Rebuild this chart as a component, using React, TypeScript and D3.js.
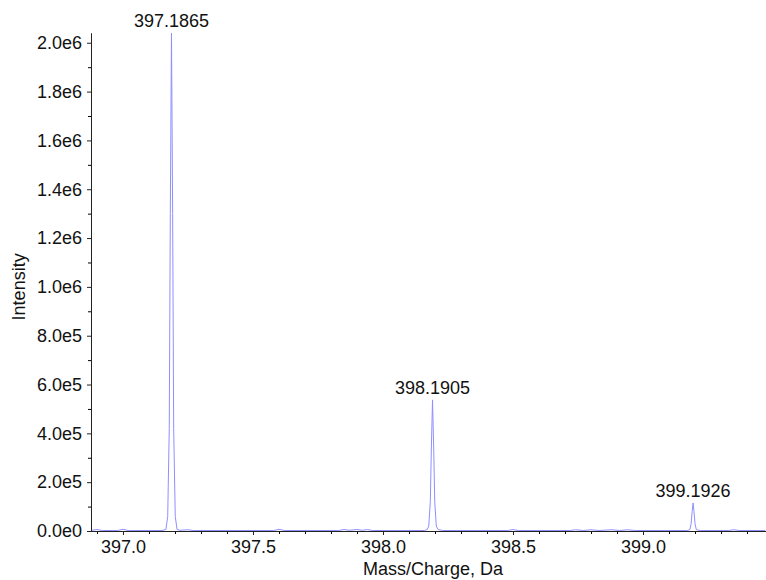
import React, { useRef, useEffect } from 'react';
import * as d3 from 'd3';

// profile spectrum samples (m/z, intensity)
const mzValues = [
  396.88, 396.9, 396.92, 396.98, 397.0, 397.02, 397.15, 397.165, 397.172, 397.178, 397.182,
  397.1865, 397.191, 397.195, 397.201, 397.208, 397.22, 397.25, 397.27, 397.58, 397.6, 397.62,
  397.83, 397.85, 397.87, 397.9, 397.92, 397.94, 397.96, 398.16, 398.17, 398.176, 398.182,
  398.186, 398.1905, 398.195, 398.199, 398.205, 398.212, 398.23, 398.48, 398.5, 398.52, 398.72,
  398.74, 398.77, 398.8, 398.83, 398.88, 398.91, 398.94, 398.97, 399.17, 399.18, 399.185,
  399.189, 399.1926, 399.196, 399.2, 399.205, 399.22, 399.33, 399.35, 399.37, 399.47,
];
const intensities = [
  3000, 6000, 2000, 2000, 7000, 2000, 2000, 6000, 60000, 420000, 1300000,
  2040000, 1300000, 420000, 60000, 6000, 3000, 5000, 2000, 2000, 7000, 2000,
  2000, 6000, 3000, 6000, 3000, 6000, 2000, 2000, 6000, 20000, 120000,
  340000, 537000, 340000, 120000, 20000, 6000, 2000, 2000, 6000, 2000, 2000,
  5000, 2000, 5000, 2000, 5000, 2000, 5000, 2000, 2000, 5000, 30000,
  80000, 115000, 80000, 30000, 5000, 2000, 2000, 5000, 2000, 2000,
];

// labelled centroids
const peakMz = [397.1865, 398.1905, 399.1926];
const peakHeights = [2040000, 537000, 115000];
const peakLabels = ['397.1865', '398.1905', '399.1926'];

const yTicks = [0, 2e5, 4e5, 6e5, 8e5, 1e6, 1.2e6, 1.4e6, 1.6e6, 1.8e6, 2e6];
const xTicks = [397.0, 397.5, 398.0, 398.5, 399.0];

const Spectrum = ({ width = 766, height = 580 }) => {
  const svgRef = useRef(null);
  useEffect(() => {
    document.body.style.margin = '0';
    d3.select(svgRef.current).selectAll('*').remove();
    const svg = d3.select(svgRef.current);
    const margin = { top: 33, right: 0, bottom: 49, left: 91 };
    const font = '"Liberation Sans", Arial, sans-serif';

    const x = d3
      .scaleLinear()
      .domain([396.877, 399.473])
      .range([margin.left, width - margin.right]);
    const y = d3
      .scaleLinear()
      .domain([0, 2.04e6])
      .range([height - margin.bottom, margin.top]);

    // spectrum line
    const pts = mzValues.map((m, i) => [m, intensities[i]]);
    const line = d3
      .line()
      .x((d) => x(d[0]))
      .y((d) => y(d[1]));
    svg
      .append('path')
      .datum(pts)
      .attr('d', line)
      .attr('fill', 'none')
      .attr('stroke', '#8f8fff')
      .attr('stroke-width', 1);

    // minor ticks
    const yMinor = d3.range(1e5, 2.04e6, 2e5);
    svg
      .append('g')
      .attr('transform', `translate(${margin.left},0)`)
      .call(d3.axisLeft(y).tickValues(yMinor).tickSize(3).tickSizeOuter(0).tickFormat(() => ''));
    const xMinor = d3.range(396.9, 399.45, 0.1).filter((v) => Math.abs(v * 2 - Math.round(v * 2)) > 0.01);
    svg
      .append('g')
      .attr('transform', `translate(0,${height - margin.bottom})`)
      .call(d3.axisBottom(x).tickValues(xMinor).tickSize(3).tickSizeOuter(0).tickFormat(() => ''));

    // major axes
    const yFmt = (d) => d3.format('.1e')(d).replace('+', '');
    const yAxis = svg
      .append('g')
      .attr('transform', `translate(${margin.left},0)`)
      .call(d3.axisLeft(y).tickValues(yTicks).tickSize(4).tickPadding(5).tickSizeOuter(0).tickFormat(yFmt));
    const xAxis = svg
      .append('g')
      .attr('transform', `translate(0,${height - margin.bottom})`)
      .call(d3.axisBottom(x).tickValues(xTicks).tickSize(4).tickPadding(5).tickSizeOuter(0).tickFormat(d3.format('.1f')));
    [yAxis, xAxis].forEach((g) => {
      g.selectAll('text').style('font-family', font).style('font-size', '18px').attr('fill', '#111');
      g.selectAll('line, path').attr('stroke', '#222');
    });

    // peak labels
    svg
      .append('g')
      .selectAll('text')
      .data(peakMz)
      .join('text')
      .attr('x', (d) => x(d))
      .attr('y', (d, i) => y(peakHeights[i]) - 6)
      .attr('text-anchor', 'middle')
      .style('font-family', font)
      .style('font-size', '18px')
      .attr('fill', '#111')
      .text((d, i) => peakLabels[i]);

    // axis titles
    svg
      .append('text')
      .attr('x', x(398.0) + 50)
      .attr('y', 575)
      .attr('text-anchor', 'middle')
      .style('font-family', font)
      .style('font-size', '18px')
      .attr('fill', '#111')
      .text('Mass/Charge, Da');
    svg
      .append('text')
      .attr('transform', `translate(25,${y(1e6)}) rotate(-90)`)
      .attr('text-anchor', 'middle')
      .style('font-family', font)
      .style('font-size', '18px')
      .attr('fill', '#111')
      .text('Intensity');
  }, [width, height]);

  return <svg ref={svgRef} width={width} height={height} style={{ display: 'block' }}></svg>;
};

export default function App() {
  return <Spectrum />;
}
